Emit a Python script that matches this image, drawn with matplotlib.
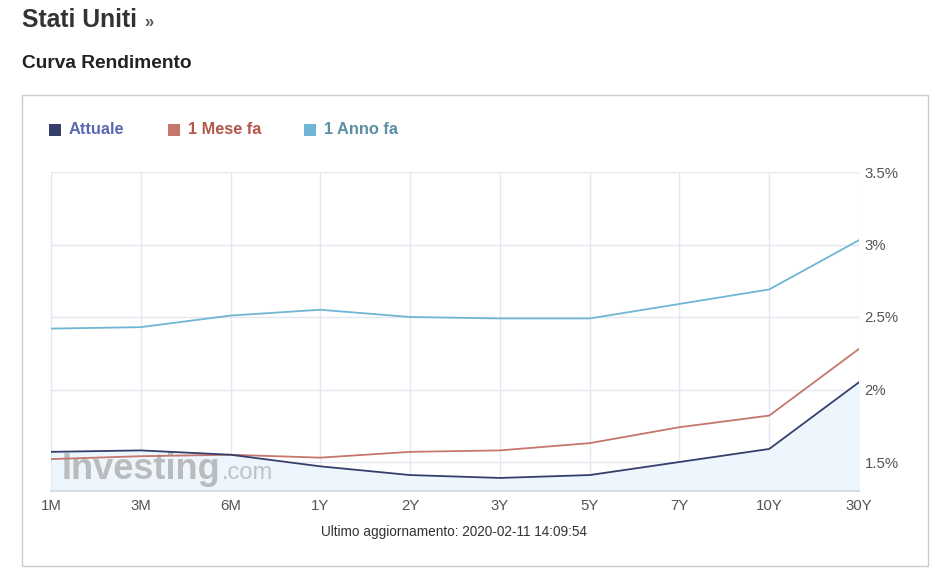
import matplotlib
matplotlib.use("Agg")
import matplotlib.pyplot as plt
from matplotlib.patches import Rectangle
from matplotlib.ticker import FuncFormatter

# curva rendimento USA
scadenze = ["1M", "3M", "6M", "1Y", "2Y", "3Y", "5Y", "7Y", "10Y", "30Y"]
attuale = [1.57, 1.58, 1.55, 1.47, 1.41, 1.39, 1.41, 1.50, 1.59, 2.05]
mese_fa = [1.52, 1.54, 1.55, 1.53, 1.57, 1.58, 1.63, 1.74, 1.82, 2.28]
anno_fa = [2.42, 2.43, 2.51, 2.55, 2.50, 2.49, 2.49, 2.59, 2.69, 3.03]
y_ticks = [1.5, 2.0, 2.5, 3.0, 3.5]

C_ATT = "#363f6b"
C_MESE = "#c6766c"
C_ANNO = "#6fb6d4"

plt.rcParams["font.family"] = ["Liberation Sans", "DejaVu Sans"]

W, H = 935, 569
fig = plt.figure(figsize=(W / 100, H / 100), dpi=100)


def fx(px):
    return px / W


def fy(py):
    return 1 - py / H


# cornice grigia
fig.patches.append(Rectangle((fx(22), fy(566)), fx(906), 471 / H, transform=fig.transFigure,
                             fill=False, edgecolor="#cccccc", linewidth=1.0))

fig.text(fx(22), fy(20), "Stati Uniti", fontsize=17.8, fontweight="bold", color="#333333",
         va="center", ha="left")
fig.text(fx(144), fy(22), "»", fontsize=12, fontweight="bold", color="#555555", va="center")
fig.text(fx(22), fy(63), "Curva Rendimento", fontsize=13.8, fontweight="bold", color="#222222",
         va="center", ha="left")

# legenda
leg = [("Attuale", C_ATT, "#5b67b0", 49), ("1 Mese fa", C_MESE, "#b4564c", 168),
       ("1 Anno fa", C_ANNO, "#5c8ea6", 304)]
for lab, c, tc, x0 in leg:
    fig.patches.append(Rectangle((fx(x0), fy(136)), fx(12), 12 / H, transform=fig.transFigure,
                                 color=c, linewidth=0))
    fig.text(fx(x0 + 20), fy(130), lab, fontsize=11.8, fontweight="bold", color=tc, va="center")

ax = fig.add_axes([fx(51), fy(491), fx(808), (491 - 172) / H])
x = list(range(len(scadenze)))
ax.fill_between(x, attuale, 1.3, color="#eef6fd", zorder=1)
ax.plot(x, anno_fa, color=C_ANNO, lw=1.3, zorder=3)
ax.plot(x, mese_fa, color=C_MESE, lw=1.3, zorder=3)
ax.plot(x, attuale, color=C_ATT, lw=1.3, zorder=4)

ax.set_xlim(0, len(scadenze) - 1)
ax.set_ylim(1.30, 3.5)
ax.set_xticks(x)
ax.set_xticklabels(scadenze)
ax.set_yticks(y_ticks)
ax.yaxis.set_major_formatter(FuncFormatter(lambda v, p: f"{v:g}%"))
ax.yaxis.tick_right()
ax.tick_params(length=0, labelsize=10.8, labelcolor="#555555", pad=6)
ax.tick_params(axis="y", pad=4)
ax.grid(True, color="#e4e6f0", lw=1.0, zorder=0)
ax.set_axisbelow(True)
for s in ["top", "right"]:
    ax.spines[s].set_visible(False)
ax.spines["left"].set_color("#e4e6f0")
ax.spines["bottom"].set_color("#d8dce6")
ax.spines["bottom"].set_linewidth(1.5)

# filigrana
ax.text(0.12, 1.385, "Investing", fontsize=26, fontweight="bold", color="#a8a8a8", alpha=0.75,
        zorder=2, va="baseline")
ax.text(1.90, 1.385, ".com", fontsize=17, color="#b0b0b0", alpha=0.75, zorder=2, va="baseline")

fig.text(fx(454), fy(532), "Ultimo aggiornamento: 2020-02-11 14:09:54", fontsize=9.8,
         color="#333333", ha="center", va="center")

fig.savefig("out.png", dpi=100)
